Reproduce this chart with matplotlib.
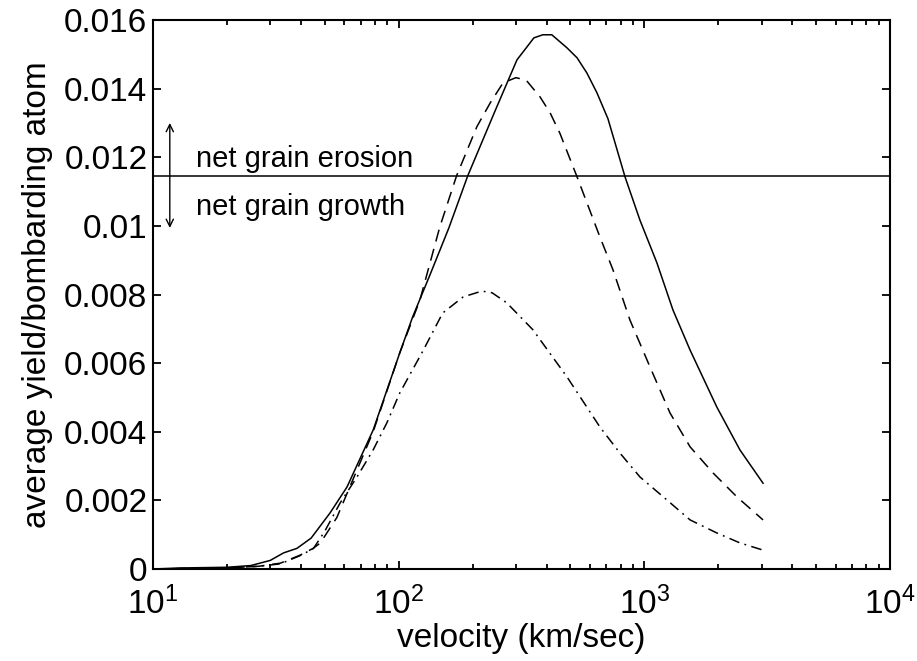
import matplotlib
matplotlib.use("Agg")
import matplotlib.pyplot as plt
from matplotlib.ticker import FixedLocator, FixedFormatter, LogLocator, NullFormatter

plt.rcParams['font.family'] = ['Liberation Sans', 'DejaVu Sans']
plt.rcParams['mathtext.fontset'] = 'custom'
plt.rcParams['mathtext.rm'] = 'Liberation Sans'
plt.rcParams['mathtext.it'] = 'Liberation Sans'

# velocity (km/sec) and average yield
solid_v = [10, 13, 20, 25, 30, 34, 38.5, 44, 52.5, 61.6, 78.7, 101, 114, 134, 160, 191,
           245, 303, 333, 355, 386, 420, 484, 532, 583, 641, 711, 834, 959, 1125, 1307,
           1535, 1972, 2449, 3041]
solid_y = [0, 0.00003, 0.00005, 0.0001, 0.00025, 0.00047, 0.0006, 0.0009, 0.00163, 0.00239,
           0.00405, 0.0063, 0.00735, 0.00857, 0.00994, 0.01146, 0.0133, 0.01484, 0.01522,
           0.01548, 0.01557, 0.01557, 0.01519, 0.0149, 0.01446, 0.01388, 0.01312, 0.01143,
           0.01017, 0.00892, 0.00755, 0.00638, 0.00472, 0.00347, 0.0025]

dashed_v = [10, 20, 27, 33, 39.6, 44.8, 48, 56, 61.6, 78.7, 101, 122, 147, 172, 208, 236,
            266, 300, 330, 376, 413, 453, 532, 659, 745, 873, 1054, 1271, 1535, 1903, 2382,
            3041]
dashed_y = [0, 0.00003, 0.00008, 0.00017, 0.0004, 0.0006, 0.00076, 0.0015, 0.0022, 0.0040,
            0.0063, 0.00784, 0.00997, 0.01146, 0.01289, 0.01359, 0.01417, 0.01432, 0.01425,
            0.01376, 0.0133, 0.0127, 0.01143, 0.00968, 0.00872, 0.00726, 0.00589, 0.00455,
            0.00356, 0.0028, 0.0021, 0.00143]

dashdot_v = [10, 20, 27, 33, 40, 45, 50, 57.7, 67.6, 78.7, 89.5, 101, 126, 151, 183, 218,
             240, 275, 352, 484, 659, 795, 960, 1236, 1535, 1972, 2449, 3041]
dashdot_y = [0, 0.00003, 0.00008, 0.00015, 0.0004, 0.0006, 0.0011, 0.00192, 0.00268, 0.00347,
             0.00426, 0.00513, 0.00638, 0.00746, 0.00793, 0.0081, 0.00805, 0.00776, 0.00697,
             0.0056, 0.00414, 0.00338, 0.00268, 0.00201, 0.00143, 0.00105, 0.00076, 0.00055]

threshold = 0.01146

y_ticks = [0, 0.002, 0.004, 0.006, 0.008, 0.01, 0.012, 0.014, 0.016]
y_tick_labels = ['0', '0.002', '0.004', '0.006', '0.008', '0.01', '0.012', '0.014', '0.016']
x_ticks = [10, 100, 1000, 10000]
x_tick_labels = [r'$10^{1}$', r'$10^{2}$', r'$10^{3}$', r'$10^{4}$']

fig = plt.figure(figsize=(9.17, 6.61), dpi=100)
ax = fig.add_axes([0.1669, 0.1392, 0.8037, 0.8305])

ax.plot(solid_v, solid_y, color='k', lw=1.1, ls='-')
ax.plot(dashed_v, dashed_y, color='k', lw=1.1, dashes=(8, 5))
ax.plot(dashdot_v, dashdot_y, color='k', lw=1.1, dashes=(7, 3.5, 1.2, 3.5))
ax.axhline(threshold, color='k', lw=1.1)

# arrow and labels for the two regimes
ax.annotate('', xy=(11.7, 0.0130), xytext=(11.7, 0.00994),
            arrowprops=dict(arrowstyle='<->', color='k', lw=1.0,
                            shrinkA=0, shrinkB=0, mutation_scale=13))
ax.text(15.0, 0.01172, 'net grain erosion', fontsize=21, va='baseline', ha='left')
ax.text(15.0, 0.01032, 'net grain growth', fontsize=21, va='baseline', ha='left')

ax.set_xscale('log')
ax.set_xlim(10, 10000)
ax.set_ylim(0, 0.016)
ax.xaxis.set_major_locator(FixedLocator(x_ticks))
ax.xaxis.set_major_formatter(FixedFormatter(x_tick_labels))
ax.xaxis.set_minor_locator(LogLocator(base=10, subs=range(2, 10)))
ax.xaxis.set_minor_formatter(NullFormatter())
ax.yaxis.set_major_locator(FixedLocator(y_ticks))
ax.yaxis.set_major_formatter(FixedFormatter(y_tick_labels))

ax.tick_params(which='both', direction='in', top=True, right=True, labelsize=24, width=1.3)
ax.tick_params(which='major', length=6)
ax.tick_params(which='minor', length=3.5)
ax.tick_params(axis='x', which='major', pad=13)
ax.tick_params(axis='y', which='major', pad=4)
for sp in ax.spines.values():
    sp.set_linewidth(1.5)

ax.set_xlabel('velocity (km/sec)', fontsize=24, labelpad=1)
ax.set_ylabel('average yield/bombarding atom', fontsize=24, labelpad=8)

fig.savefig('out.png', dpi=100)
